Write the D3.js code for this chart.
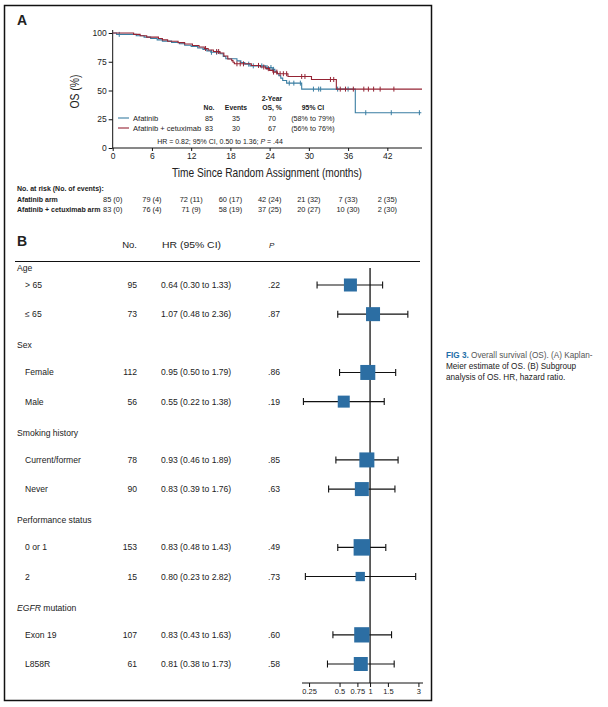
<!DOCTYPE html>
<html><head><meta charset="utf-8">
<script src="https://cdn.jsdelivr.net/npm/d3@7"></script>
<style>
body{margin:0;background:#fff}
svg{display:block}
text{font-family:"Liberation Sans",Arial,Helvetica,sans-serif;fill:#222}
</style>
</head><body>
<svg id="c" width="608" height="707"></svg>
<script>
// ---------------- DATA ----------------
const kmMonthTicks = [0, 6, 12, 18, 24, 30, 36, 42];
const osTicks = [0, 25, 50, 75, 100];

// Kaplan-Meier steps (time in months, OS %)
const afatinibTime = [0,0.6,3.6,4.8,5.8,6.8,7.6,9.0,10.2,11.0,12.0,13.0,13.8,14.4,15.0,16.4,16.9,17.3,19.0,19.6,20.2,21.0,23.4,24.4,24.8,25.1,25.4,25.7,26.0,26.6,28.9,37.1];
const afatinibSurv = [100,98.8,97.6,96.4,95.2,94.0,92.9,91.8,90.6,89.4,88.2,87.0,85.8,84.5,83.2,81.9,79.6,77.6,75.8,74.4,72.9,71.4,70.0,68.4,66.6,64.8,62.8,60.8,58.7,56.4,51.2,30.7];
const afatinibCensor = [1.0,15.1,15.9,20.8,21.5,22.8,23.6,24.2,24.6,27.0,27.7,28.7,30.7,31.5,31.8,34.4,36.0,38.7,42.6,46.9];

const comboTime = [0,3.2,4.2,5.2,7.0,7.6,8.4,10.0,11.0,12.2,13.2,14.0,14.6,15.4,16.4,17.0,17.6,18.2,18.4,18.6,21.2,22.6,23.4,24.0,24.5,25.2,26.8,30.4,34.2];
const comboSurv = [100,98.8,97.6,96.4,95.2,94.0,92.8,91.6,90.4,89.1,87.8,86.5,85.2,83.9,82.6,80.0,77.4,76.0,74.6,73.2,71.8,70.4,69.0,67.5,66.0,64.6,62.2,59.6,51.2];
const comboCensor = [14.2,15.9,16.2,19.0,19.5,20.0,22.3,23.1,23.8,24.6,25.1,25.6,26.1,26.6,28.9,29.4,33.3,33.8,34.8,35.6,36.8,38.4,39.1,39.9,40.9,43.0];
const kmEnd = [47.2, 47.3];

// legend table
const armNames = ["Afatinib", "Afatinib + cetuximab"];
const armN = [85, 83];
const armEvents = [35, 30];
const arm2yOS = [70, 67];
const arm2yCI = ["(58% to 79%)", "(56% to 76%)"];

// at risk table
const atRiskLabels = ["Afatinib arm", "Afatinib + cetuximab arm"];
const atRiskAfatinib = ["85 (0)","79 (4)","72 (11)","60 (17)","42 (24)","21 (32)","7 (33)","2 (35)"];
const atRiskCombo = ["83 (0)","76 (4)","71 (9)","58 (19)","37 (25)","20 (27)","10 (30)","2 (30)"];

// forest plot
const groupNames = ["Age","Sex","Smoking history","Performance status","EGFR mutation"];
const subgroupNames = ["> 65","≤ 65","Female","Male","Current/former","Never","0 or 1","2","Exon 19","L858R"];
const subgroupGroup = [0,0,1,1,2,2,3,3,4,4];
const subgroupN = [95,73,112,56,78,90,153,15,107,61];
const hrEst = [0.64,1.07,0.95,0.55,0.93,0.83,0.83,0.80,0.83,0.81];
const hrLow = [0.30,0.48,0.50,0.22,0.46,0.39,0.48,0.23,0.43,0.38];
const hrHigh = [1.33,2.36,1.79,1.38,1.89,1.76,1.43,2.82,1.63,1.73];
const pValues = [".22",".87",".86",".19",".85",".63",".49",".73",".60",".58"];
const boxWeight = [13,14,15,12,15,14,16.5,9.3,15.3,14];
const hrTicks = [0.25,0.5,0.75,1,1.5,3];

// ---------------- DRAW ----------------
const svg = d3.select("#c");
svg.append("rect").attr("width",608).attr("height",707).attr("fill","#fff");
// frame
svg.append("rect").attr("x",4.5).attr("y",5.5).attr("width",427).attr("height",695)
  .attr("fill","none").attr("stroke","#111").attr("stroke-width",1.5);

const BLUE = "#3a7ea2", RED = "#952434";

// ---- Panel A ----
svg.append("text").attr("x",17).attr("y",25).attr("font-size",14).attr("font-weight","bold").text("A");

const x = d3.scaleLinear().domain([0,47.3]).range([112.7,422]);
const y = d3.scaleLinear().domain([0,100]).range([148,33]);

const gy = svg.append("g").attr("transform",`translate(${x(0)},0)`)
  .call(d3.axisLeft(y).tickValues(osTicks).tickSize(4).tickPadding(2));
const gx = svg.append("g").attr("transform",`translate(0,${y(0)})`)
  .call(d3.axisBottom(x).tickValues(kmMonthTicks).tickSize(3).tickPadding(2));
[gy,gx].forEach(g=>{
  g.selectAll("text").attr("font-size",8.5).attr("fill","#222").attr("font-family","Liberation Sans, Arial");
  g.select(".domain").attr("stroke","#111");
  g.selectAll(".tick line").attr("stroke","#111");
});
gy.select(".domain").attr("d",`M0,${y(0)}V${y(100)-3}`);
gx.select(".domain").attr("d",`M${x(0)},0H${x(47.3)}`);

svg.append("text").attr("transform",`translate(79,${y(50)+1}) rotate(-90)`).attr("text-anchor","middle")
  .attr("font-size",13).attr("textLength",34).attr("lengthAdjust","spacingAndGlyphs").text("OS (%)");
svg.append("text").attr("x",172).attr("y",177)
  .attr("font-size",13).attr("textLength",190).attr("lengthAdjust","spacingAndGlyphs").text("Time Since Random Assignment (months)");

function stepPts(t,s,end){ const p=t.map((d,i)=>[d,s[i]]); p.push([end,s[s.length-1]]); return p; }
function survAt(t,s,tt){ let v=s[0]; for(let i=0;i<t.length;i++){ if(t[i]<=tt) v=s[i]; } return v; }
const line = d3.line().x(d=>x(d[0])).y(d=>y(d[1])).curve(d3.curveStepAfter);

const arms = [
  {t:afatinibTime,s:afatinibSurv,c:afatinibCensor,end:kmEnd[0],col:BLUE},
  {t:comboTime,s:comboSurv,c:comboCensor,end:kmEnd[1],col:RED}
];
arms.forEach(a=>{
  svg.append("path").attr("d",line(stepPts(a.t,a.s,a.end))).attr("fill","none").attr("stroke",a.col).attr("stroke-width",1.1);
  svg.append("g").selectAll("line").data(a.c).join("line")
    .attr("x1",d=>x(d)).attr("x2",d=>x(d))
    .attr("y1",d=>y(survAt(a.t,a.s,d))-2.5).attr("y2",d=>y(survAt(a.t,a.s,d))+2.5)
    .attr("stroke",a.col).attr("stroke-width",1);
});

// legend table
const lg = svg.append("g").attr("font-size",7.2);
const colX = {n:209, ev:236, os:272, ci:313};
lg.append("text").attr("x",colX.os).attr("y",101).attr("text-anchor","middle").attr("font-weight","bold").attr("font-size",6.8).text("2-Year");
[["No.",colX.n],["Events",colX.ev],["OS, %",colX.os],["95% CI",colX.ci]].forEach(h=>{
  lg.append("text").attr("x",h[1]).attr("y",110).attr("text-anchor","middle").attr("font-weight","bold").attr("font-size",6.8).text(h[0]);
});
const legY = [118,128];
armNames.forEach((nm,i)=>{
  const yy = legY[i];
  lg.append("line").attr("x1",118).attr("x2",129).attr("y1",yy).attr("y2",yy).attr("stroke",i?RED:BLUE).attr("stroke-width",1.1);
  const t = lg.append("text").attr("x",133).attr("y",yy+2.5).attr("font-size",7.2).text(nm);
  const w = t.node().getComputedTextLength();
  t.attr("textLength", w*1.05).attr("lengthAdjust","spacingAndGlyphs");
  lg.append("text").attr("x",colX.n).attr("y",yy+2.5).attr("text-anchor","middle").text(armN[i]);
  lg.append("text").attr("x",colX.ev).attr("y",yy+2.5).attr("text-anchor","middle").text(armEvents[i]);
  lg.append("text").attr("x",colX.os).attr("y",yy+2.5).attr("text-anchor","middle").text(arm2yOS[i]);
  lg.append("text").attr("x",colX.ci).attr("y",yy+2.5).attr("text-anchor","middle").text(arm2yCI[i]);
});
const hrT = lg.append("text").attr("x",220).attr("y",143.5).attr("text-anchor","middle").attr("font-size",7);
hrT.append("tspan").text("HR = 0.82; 95% CI, 0.50 to 1.36; ");
hrT.append("tspan").attr("font-style","italic").text("P");
hrT.append("tspan").text(" = .44");

// at risk
const ar = svg.append("g").attr("font-size",7).attr("font-weight","bold");
ar.append("text").attr("x",17).attr("y",190.5).text("No. at risk (No. of events):");
[atRiskAfatinib, atRiskCombo].forEach((row,i)=>{
  const yy = 201.5 + i*10;
  ar.append("text").attr("x",17).attr("y",yy).text(atRiskLabels[i]);
  ar.selectAll(null).data(row).join("text").attr("x",(d,j)=>x(kmMonthTicks[j])).attr("y",yy)
    .attr("text-anchor","middle").attr("font-weight","normal").attr("font-size",7.4).text(d=>d);
});

// ---- Panel B ----
svg.append("text").attr("x",17).attr("y",246).attr("font-size",14).attr("font-weight","bold").text("B");
const fb = svg.append("g").attr("font-size",8.6).attr("fill","#222");
fb.append("text").attr("x",137).attr("y",248).attr("text-anchor","end").attr("font-size",9.5).text("No.");
fb.append("text").attr("x",162).attr("y",248).attr("font-size",9.5).attr("textLength",59).attr("lengthAdjust","spacingAndGlyphs").text("HR (95% CI)");
fb.append("text").attr("x",269).attr("y",248).attr("font-style","italic").attr("font-size",8).text("P");
svg.append("line").attr("x1",15).attr("x2",420).attr("y1",261.5).attr("y2",261.5).attr("stroke","#111").attr("stroke-width",1.2);

const rowY = d3.scaleLinear().domain([1,14]).range([285,664]);
const hx = d3.scaleLog().base(2).domain([0.213,3.33]).range([302,423]);
const boxS = d3.scaleLinear().domain([0,16.5]).range([0,16.5]);

// reference line at HR = 1
svg.append("line").attr("x1",hx(1)).attr("x2",hx(1)).attr("y1",268).attr("y2",683).attr("stroke","#111").attr("stroke-width",1.3);

groupNames.forEach((g,gi)=>{
  const yy = gi===0 ? rowY(0)+12 : rowY(gi*3)+2;
  const t = fb.append("text").attr("x",17).attr("y",yy).attr("dy","0.35em");
  if(g.startsWith("EGFR")){ t.append("tspan").attr("font-style","italic").text("EGFR"); t.append("tspan").text(" mutation"); }
  else t.text(g);
});
subgroupNames.forEach((s,i)=>{
  const idx = subgroupGroup[i]*3 + 1 + (i%2);
  const yy = rowY(idx);
  fb.append("text").attr("x",25).attr("y",yy).attr("dy","0.35em").text(s);
  fb.append("text").attr("x",137).attr("y",yy).attr("dy","0.35em").attr("text-anchor","end").text(subgroupN[i]);
  fb.append("text").attr("x",161).attr("y",yy).attr("dy","0.35em").text(`${hrEst[i].toFixed(2)} (${hrLow[i].toFixed(2)} to ${hrHigh[i].toFixed(2)})`);
  fb.append("text").attr("x",268).attr("y",yy).attr("dy","0.35em").text(pValues[i]);
  // CI whisker
  svg.append("line").attr("x1",hx(hrLow[i])).attr("x2",hx(hrHigh[i])).attr("y1",yy).attr("y2",yy).attr("stroke","#111").attr("stroke-width",1.1);
  [hrLow[i],hrHigh[i]].forEach(v=>svg.append("line").attr("x1",hx(v)).attr("x2",hx(v)).attr("y1",yy-3.5).attr("y2",yy+3.5).attr("stroke","#111").attr("stroke-width",1.1));
  const bs = boxS(boxWeight[i]);
  svg.append("rect").attr("x",hx(hrEst[i])-bs/2).attr("y",yy-bs/2).attr("width",bs).attr("height",bs).attr("fill","#2c6ea3");
});

const ga = svg.append("g").attr("transform","translate(0,683)")
  .call(d3.axisBottom(hx).tickValues(hrTicks).tickFormat(d=>String(d)).tickSize(4).tickPadding(2));
ga.selectAll("text").attr("font-size",7.5).attr("fill","#222").attr("font-family","Liberation Sans, Arial");
ga.select(".domain").attr("stroke","#111").attr("d",`M302,0H423`);
ga.selectAll(".tick line").attr("stroke","#111");

// caption
const cap = svg.append("g").attr("font-size",8.2);
const c1 = cap.append("text").attr("x",446).attr("y",358);
c1.append("tspan").attr("fill","#1f6fa8").attr("font-weight","bold").text("FIG 3.");
c1.append("tspan").attr("fill","#555").text(" Overall survival (OS). (A) Kaplan-");
cap.append("text").attr("x",446).attr("y",369).attr("fill","#555").text("Meier estimate of OS. (B) Subgroup");
cap.append("text").attr("x",446).attr("y",380).attr("fill","#555").text("analysis of OS. HR, hazard ratio.");
</script>
</body></html>
